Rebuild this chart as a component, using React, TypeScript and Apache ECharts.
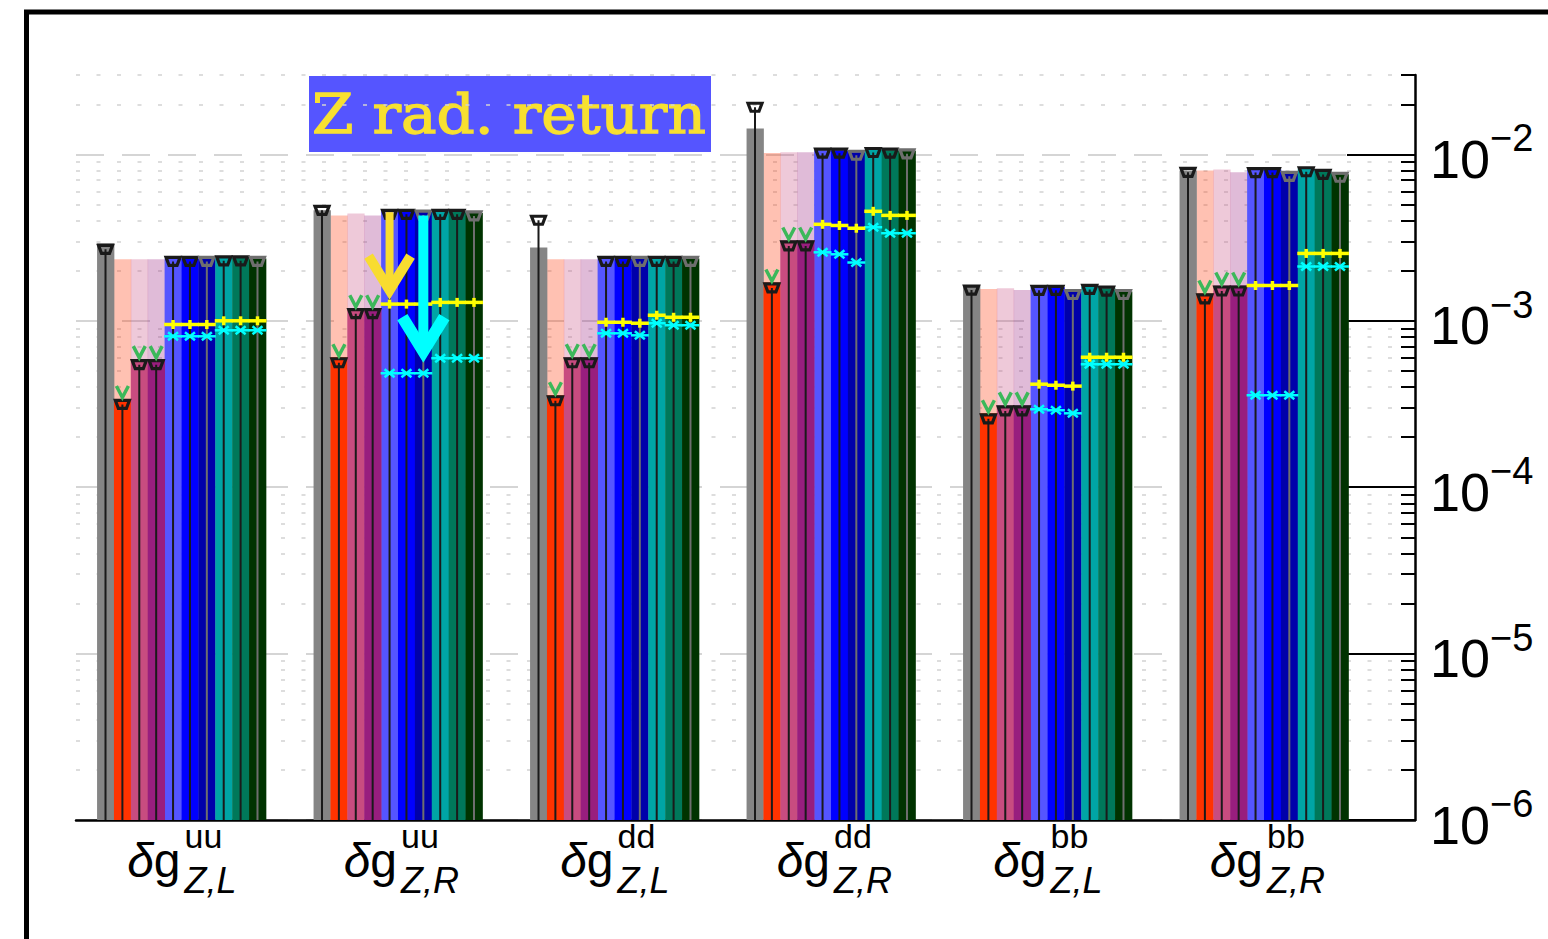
import React, { useEffect, useRef } from 'react';
import * as echarts from 'echarts';

// ---------- categories / labels ----------
const groupIndex = [0, 1, 2, 3, 4, 5];
const groupSup = ['uu', 'uu', 'dd', 'dd', 'bb', 'bb'];
const groupSub = ['Z,L', 'Z,R', 'Z,L', 'Z,R', 'Z,L', 'Z,R'];

// ---------- y axis ticks (decades and minor ticks) ----------
const yMin = 1e-6;
const yMax = 0.03;
const yMajorTicks = [1e-6, 1e-5, 1e-4, 1e-3, 1e-2];
const yMinorTicks = [
  2e-6, 3e-6, 4e-6, 5e-6, 6e-6, 7e-6, 8e-6, 9e-6,
  2e-5, 3e-5, 4e-5, 5e-5, 6e-5, 7e-5, 8e-5, 9e-5,
  2e-4, 3e-4, 4e-4, 5e-4, 6e-4, 7e-4, 8e-4, 9e-4,
  2e-3, 3e-3, 4e-3, 5e-3, 6e-3, 7e-3, 8e-3, 9e-3,
  2e-2, 3e-2,
];

// ---------- series values (one entry per group) ----------
const grayBar = [2.92e-3, 4.61e-3, 2.76e-3, 1.43e-2, 1.63e-3, 8.0e-3];
const grayMark = [2.69e-3, 4.61e-3, 4.02e-3, 1.92e-2, 1.53e-3, 7.8e-3];

const redBg = [2.34e-3, 4.3e-3, 2.34e-3, 1.02e-2, 1.55e-3, 8.0e-3];
const pinkBg = [2.34e-3, 4.42e-3, 2.34e-3, 1.03e-2, 1.57e-3, 8.1e-3];
const purpleBg = [2.34e-3, 4.3e-3, 2.34e-3, 1.03e-2, 1.53e-3, 7.8e-3];

const red = [3.39e-4, 6.04e-4, 3.57e-4, 1.7e-3, 2.78e-4, 1.46e-3];
const pink = [5.88e-4, 1.19e-3, 6.04e-4, 3.04e-3, 3.1e-4, 1.63e-3];
const purple = [5.88e-4, 1.19e-3, 6.04e-4, 3.04e-3, 3.1e-4, 1.63e-3];

const blue1 = [2.37e-3, 4.55e-3, 2.37e-3, 1.06e-2, 1.59e-3, 8.1e-3];
const blue2 = [2.37e-3, 4.55e-3, 2.37e-3, 1.06e-2, 1.59e-3, 8.1e-3];
const blue3 = [2.37e-3, 4.5e-3, 2.37e-3, 1.03e-2, 1.5e-3, 7.7e-3];
const teal = [2.39e-3, 4.55e-3, 2.37e-3, 1.07e-2, 1.61e-3, 8.2e-3];
const green = [2.39e-3, 4.55e-3, 2.37e-3, 1.06e-2, 1.57e-3, 7.9e-3];
const darkGreen = [2.37e-3, 4.45e-3, 2.37e-3, 1.05e-2, 1.5e-3, 7.6e-3];

// yellow "+" and cyan "x" values: rows = groups, columns = blue1..darkGreen
const yellowPlus = [
  [9.5e-4, 9.5e-4, 9.5e-4, 1.0e-3, 1.0e-3, 1.0e-3],
  [1.26e-3, 1.26e-3, 1.26e-3, 1.29e-3, 1.29e-3, 1.29e-3],
  [9.8e-4, 9.8e-4, 9.67e-4, 1.08e-3, 1.05e-3, 1.05e-3],
  [3.8e-3, 3.74e-3, 3.6e-3, 4.55e-3, 4.3e-3, 4.3e-3],
  [4.16e-4, 4.1e-4, 4.05e-4, 6.04e-4, 6.04e-4, 6.04e-4],
  [1.63e-3, 1.63e-3, 1.63e-3, 2.54e-3, 2.54e-3, 2.54e-3],
];
const cyanCross = [
  [8.07e-4, 8.07e-4, 8.07e-4, 8.77e-4, 8.77e-4, 8.77e-4],
  [4.84e-4, 4.84e-4, 4.84e-4, 5.96e-4, 5.96e-4, 5.96e-4],
  [8.41e-4, 8.41e-4, 8.18e-4, 9.67e-4, 9.4e-4, 9.4e-4],
  [2.58e-3, 2.51e-3, 2.24e-3, 3.65e-3, 3.36e-3, 3.36e-3],
  [2.94e-4, 2.9e-4, 2.78e-4, 5.48e-4, 5.48e-4, 5.48e-4],
  [3.57e-4, 3.57e-4, 3.57e-4, 2.12e-3, 2.12e-3, 2.12e-3],
];

// "Z rad. return" arrows (group 2): yellow on column 4, cyan on column 6
const arrowGroup = [1, 1];
const arrowCol = [4, 6];
const arrowFrom = [4.5e-3, 4.3e-3];
const arrowTo = [1.33e-3, 5.56e-4];

// ---------- styling ----------
const FONT = 'Liberation Sans, Arial, Helvetica, sans-serif';
const COLW = 0.078; // width of one column in category units
const colColors = ['#858585', '#ff3300', '#c84c80', '#981e7e', '#5555ff', '#0000ff', '#0000aa', '#00a5a5', '#00785a', '#003300'];
const lightColors = ['', 'rgba(255,51,0,0.3)', 'rgba(200,76,128,0.3)', 'rgba(152,30,126,0.3)'];
const lg = (v: number) => Math.log10(v);
const X_MIN = -0.4873;
const X_MAX = 5.6975;

function buildOption() {
  const barRows: number[][] = [];
  [redBg, pinkBg, purpleBg].forEach((arr, k) => arr.forEach((v, g) => barRows.push([g, k + 1, lg(v), 1])));
  const full: [number, number[]][] = [[0, grayBar], [4, blue1], [5, blue2], [6, blue3], [7, teal], [8, green], [9, darkGreen]];
  full.forEach(([j, arr]) => arr.forEach((v, g) => barRows.push([g, j, lg(v), 0])));
  [red, pink, purple].forEach((arr, k) => arr.forEach((v, g) => barRows.push([g, k + 1, lg(v), 2])));

  const markRows: number[][] = [];
  grayMark.forEach((v, g) => markRows.push([g, 0, lg(v), 0]));
  [red, pink, purple].forEach((arr, k) => arr.forEach((v, g) => markRows.push([g, k + 1, lg(v), 1])));
  [blue1, blue2, blue3, teal, green, darkGreen].forEach((arr, k) => arr.forEach((v, g) => markRows.push([g, k + 4, lg(v), 2])));

  const pmRows: number[][] = [];
  cyanCross.forEach((row, g) => row.forEach((v, k) => pmRows.push([g, k + 4, lg(v), 1])));
  yellowPlus.forEach((row, g) => row.forEach((v, k) => pmRows.push([g, k + 4, lg(v), 0])));

  const arrowRows: number[][] = arrowGroup.map((g, i) => [g, arrowCol[i], lg(arrowFrom[i]), lg(arrowTo[i]), i]);

  const colX = (g: number, j: number) => g + (j - 4.5) * COLW;

  const yAxisCommon = {
    type: 'value',
    position: 'right',
    min: lg(yMin),
    max: lg(yMax),
  };

  return {
    animation: false,
    backgroundColor: '#ffffff',
    grid: { left: 76, right: 133, top: 75, bottom: 119, containLabel: false },
    xAxis: [
      {
        type: 'value',
        position: 'bottom',
        min: X_MIN,
        max: X_MAX,
        axisLine: { show: true, onZero: false, lineStyle: { color: '#000', width: 2.5 } },
        axisTick: { show: false },
        splitLine: { show: false },
        axisLabel: {
          customValues: groupIndex,
          margin: 16,
          align: 'right',
          formatter: () => '{d|δ}{g|g}',
          rich: {
            d: { fontSize: 48, fontStyle: 'italic', fontFamily: FONT, lineHeight: 48, color: '#000' },
            g: { fontSize: 48, fontFamily: FONT, lineHeight: 48, color: '#000', padding: [0, 1, 0, 0] },
          },
        },
      },
      {
        type: 'value',
        position: 'bottom',
        min: X_MIN,
        max: X_MAX,
        axisLine: { show: false, onZero: false },
        axisTick: { show: false },
        splitLine: { show: false },
        axisLabel: {
          customValues: groupIndex,
          margin: 2,
          align: 'left',
          formatter: (v: number) => `{sp|${groupSup[Math.round(v)]}}\n{sb|${groupSub[Math.round(v)]}}`,
          rich: {
            sp: { fontSize: 34, fontFamily: FONT, lineHeight: 28, color: '#000', padding: [0, 0, 0, 3] },
            sb: { fontSize: 36, fontFamily: FONT, fontStyle: 'italic', lineHeight: 61, color: '#000', padding: [0, 0, 0, 3] },
          },
        },
      },
    ],
    yAxis: [
      {
        ...yAxisCommon,
        axisLine: { show: true, onZero: false, lineStyle: { color: '#000', width: 2.5 } },
        axisTick: { show: true, inside: true, length: 68, customValues: yMajorTicks.map(lg), lineStyle: { color: '#000', width: 2 } },
        splitLine: { show: true, lineStyle: { color: '#c8c8c8', width: 1.5, type: [28, 18] } },
        axisLabel: {
          customValues: yMajorTicks.map(lg),
          margin: 15,
          formatter: (v: number) => `{b|10}{s|−${Math.round(-v)}}`,
          rich: {
            b: { fontSize: 54, fontFamily: FONT, color: '#000', lineHeight: 70, padding: [9, 0, 0, 0] },
            s: { fontSize: 38, fontFamily: FONT, color: '#000', verticalAlign: 'top' },
          },
        },
      },
      {
        ...yAxisCommon,
        axisLine: { show: false, onZero: false },
        axisTick: { show: true, inside: true, length: 14, customValues: yMinorTicks.map(lg), lineStyle: { color: '#000', width: 2 } },
        splitLine: { show: true, lineStyle: { color: '#d2d2d2', width: 1.5, type: [4, 16.5] } },
        axisLabel: { show: false },
      },
    ],
    graphic: [
      {
        type: 'rect',
        z: 100,
        shape: { x: 26.5, y: 12, width: 1600, height: 1000 },
        style: { fill: 'none', stroke: '#000', lineWidth: 5 },
      },
      {
        type: 'group',
        z: 100,
        children: [
          { type: 'rect', shape: { x: 309, y: 76, width: 402, height: 76 }, style: { fill: '#5555ff' } },
          {
            type: 'text',
            x: 312,
            y: 114,
            scaleX: 1.085,
            style: {
              text: 'Z rad. return',
              fontFamily: 'DejaVu Serif, serif',
              fontSize: 55,
              fill: '#f8e030',
              stroke: '#f8e030',
              lineWidth: 1.3,
              align: 'left',
              verticalAlign: 'middle',
            },
          },
        ],
      },
    ],
    series: [
      {
        type: 'custom',
        name: 'bars',
        xAxisIndex: 0,
        yAxisIndex: 0,
        encode: { x: 0, y: 2 },
        data: barRows,
        renderItem: (params: any, api: any) => {
          const g = api.value(0), j = api.value(1), v = api.value(2), layer = api.value(3);
          const x = colX(g, j);
          const p = api.coord([x, v]);
          const b = api.coord([x, lg(yMin)]);
          const w = api.size([COLW, 0])[0];
          const fill = layer === 1 ? lightColors[j] : colColors[j];
          return {
            type: 'rect',
            shape: { x: p[0] - w / 2, y: p[1], width: w + 0.4, height: b[1] - p[1] },
            style: { fill },
          };
        },
      },
      {
        type: 'custom',
        name: 'markers',
        xAxisIndex: 0,
        yAxisIndex: 0,
        encode: { x: 0, y: 2 },
        data: markRows,
        renderItem: (params: any, api: any) => {
          const g = api.value(0), j = api.value(1), v = api.value(2), kind = api.value(3);
          const x = colX(g, j);
          const p = api.coord([x, v]);
          const b = api.coord([x, lg(yMin)]);
          const cx = p[0];
          const cy = kind === 0 ? p[1] : kind === 1 ? p[1] + 5.5 : p[1] + 3;
          const dim = j === 6 || j === 9;
          const c = dim ? '#6e6e6e' : '#1a1a1a';
          const children: any[] = [
            { type: 'line', shape: { x1: cx, y1: b[1], x2: cx, y2: cy }, style: { stroke: c, lineWidth: 2 } },
            {
              type: 'polygon',
              shape: { points: [[cx - 7, cy - 4], [cx + 7, cy - 4], [cx + 4, cy + 4], [cx - 4, cy + 4]] },
              style: { fill: 'none', stroke: c, lineWidth: 3.2, lineJoin: 'miter' },
            },
          ];
          if (kind === 1) {
            children.push({
              type: 'polyline',
              shape: { points: [[cx - 6, p[1] - 13], [cx, p[1] - 1.5], [cx + 6, p[1] - 13]] },
              style: { fill: 'none', stroke: '#3cb85a', lineWidth: 3.5, lineJoin: 'miter' },
            });
          }
          return { type: 'group', children };
        },
      },
      {
        type: 'custom',
        name: 'plus-cross',
        xAxisIndex: 0,
        yAxisIndex: 0,
        encode: { x: 0, y: 2 },
        data: pmRows,
        renderItem: (params: any, api: any) => {
          const g = api.value(0), j = api.value(1), v = api.value(2), t = api.value(3);
          const p = api.coord([colX(g, j), v]);
          const cx = p[0], cy = p[1];
          const w = api.size([COLW, 0])[0];
          if (t === 0) {
            const c = '#ffff00';
            return {
              type: 'group',
              children: [
                { type: 'line', shape: { x1: cx - w / 2 - 0.5, y1: cy, x2: cx + w / 2 + 0.5, y2: cy }, style: { stroke: c, lineWidth: 3.5 } },
                { type: 'line', shape: { x1: cx, y1: cy - 4.5, x2: cx, y2: cy + 4.5 }, style: { stroke: c, lineWidth: 3.5 } },
              ],
            };
          }
          const c = '#00ffff';
          return {
            type: 'group',
            children: [
              { type: 'line', shape: { x1: cx - w / 2 - 0.5, y1: cy, x2: cx + w / 2 + 0.5, y2: cy }, style: { stroke: c, lineWidth: 2.5 } },
              { type: 'line', shape: { x1: cx - 5, y1: cy - 4, x2: cx + 5, y2: cy + 4 }, style: { stroke: c, lineWidth: 2.5 } },
              { type: 'line', shape: { x1: cx - 5, y1: cy + 4, x2: cx + 5, y2: cy - 4 }, style: { stroke: c, lineWidth: 2.5 } },
            ],
          };
        },
      },
      {
        type: 'custom',
        name: 'arrows',
        xAxisIndex: 0,
        yAxisIndex: 0,
        encode: { x: 0, y: [2, 3] },
        data: arrowRows,
        renderItem: (params: any, api: any) => {
          const g = api.value(0), j = api.value(1), from = api.value(2), to = api.value(3), idx = api.value(4);
          const x = colX(g, j);
          const a = api.coord([x, from]);
          const t = api.coord([x, to]);
          const color = idx === 0 ? '#f8dc30' : '#00ffff';
          const sw = idx === 0 ? 8 : 10;
          const hw = idx === 0 ? 10 : 12;
          const vy = t[1] - hw;
          const dx = 21, dy = 34;
          return {
            type: 'group',
            children: [
              { type: 'line', shape: { x1: a[0], y1: a[1], x2: a[0], y2: vy }, style: { stroke: color, lineWidth: sw } },
              {
                type: 'polyline',
                shape: { points: [[a[0] - dx, vy - dy], [a[0], vy], [a[0] + dx, vy - dy]] },
                style: { fill: 'none', stroke: color, lineWidth: hw, lineJoin: 'miter', miterLimit: 10 },
              },
            ],
          };
        },
      },
    ],
  };
}

export default function App() {
  const ref = useRef<HTMLDivElement>(null);
  useEffect(() => {
    if (!ref.current) return;
    const chart = echarts.init(ref.current, null, { renderer: 'svg' });
    chart.setOption(buildOption() as any);
    return () => chart.dispose();
  }, []);
  return (
    <div
      ref={ref}
      style={{ position: 'fixed', left: 0, top: 0, width: 1548, height: 939, background: '#fff' }}
    />
  );
}
